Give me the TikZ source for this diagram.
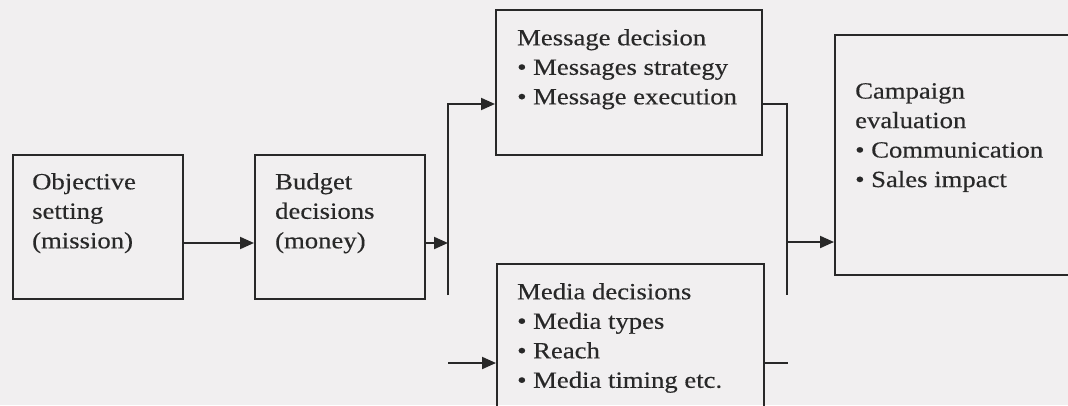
\documentclass[tikz,border=0pt]{standalone}
\usepackage{fontspec}
\setmainfont[FakeStretch=1.15, FakeBold=0.35]{Liberation Serif}
\usetikzlibrary{arrows.meta}

\definecolor{paper}{RGB}{241,239,240}
\definecolor{ink}{RGB}{40,40,40}
\newcommand{\itm}{\textbullet\ }

\tikzset{
  stagebox/.style={draw=ink, line width=2pt, rectangle, inner sep=0pt, anchor=north west},
  label/.style={anchor=north west, inner sep=0pt, align=left, text=ink,
    font=\fontsize{23.2pt}{29.5pt}\selectfont},
  wire/.style={draw=ink, line width=2pt},
  arr/.style={wire, -{Triangle[length=14pt,width=12pt]}},
}

\begin{document}
\begin{tikzpicture}[x=1pt, y=-1pt]
  \useasboundingbox (0,0) rectangle (1068,405);
  \fill[paper] (0,0) rectangle (1068,405);
  \begin{scope}
  \clip (0,0) rectangle (1068,405);

  % stage boxes
  \node[stagebox, minimum width=170pt, minimum height=144pt] (obj) at (12,154) {};
  \node[stagebox, minimum width=170pt, minimum height=144pt] (bud) at (254,154) {};
  \node[stagebox, minimum width=266pt, minimum height=145pt] (msg) at (495,9) {};
  \node[stagebox, minimum width=267pt, minimum height=160pt] (med) at (496,263) {};
  \node[stagebox, minimum width=260pt, minimum height=240pt] (cmp) at (834,34) {};

  % box texts
  \node[label] (objt) at (32,173) {Objective\\setting\\(mission)};
  \node[label] (budt) at (275,173) {Budget\\decisions\\(money)};
  \node[label] (msgt) at (517,29) {Message decision\\\itm Messages strategy\\\itm Message execution};
  \node[label] (medt) at (517,283) {Media decisions\\\itm Media types\\\itm Reach\\\itm Media timing etc.};
  \node[label] (cmpt) at (855,83) {Campaign\\evaluation\\\itm Communication\\\itm Sales impact};

  % junction points of the two vertical bars
  \coordinate (lmid) at (448,243);
  \coordinate (ltop) at (448,104);
  \coordinate (lbot) at (448,295);
  \coordinate (lmed) at (448,363);
  \coordinate (rmid) at (787,242);
  \coordinate (rtop) at (787,104);
  \coordinate (rbot) at (787,295);
  \coordinate (rmed) at (788,363);

  % connectors
  \draw[arr] (obj.east |- lmid) -- (bud.west |- lmid);
  \draw[arr] (bud.east |- lmid) -- (lmid);
  \draw[arr] (lbot) -- (ltop) -- (msg.west |- ltop);
  \draw[arr] (lmed) -- (med.west |- lmed);
  \draw[wire] (msg.east |- rtop) -- (rtop) -- (rbot);
  \draw[arr] (rmid) -- (cmp.west |- rmid);
  \draw[wire] (med.east |- rmed) -- (rmed);
  \end{scope}
\end{tikzpicture}
\end{document}
